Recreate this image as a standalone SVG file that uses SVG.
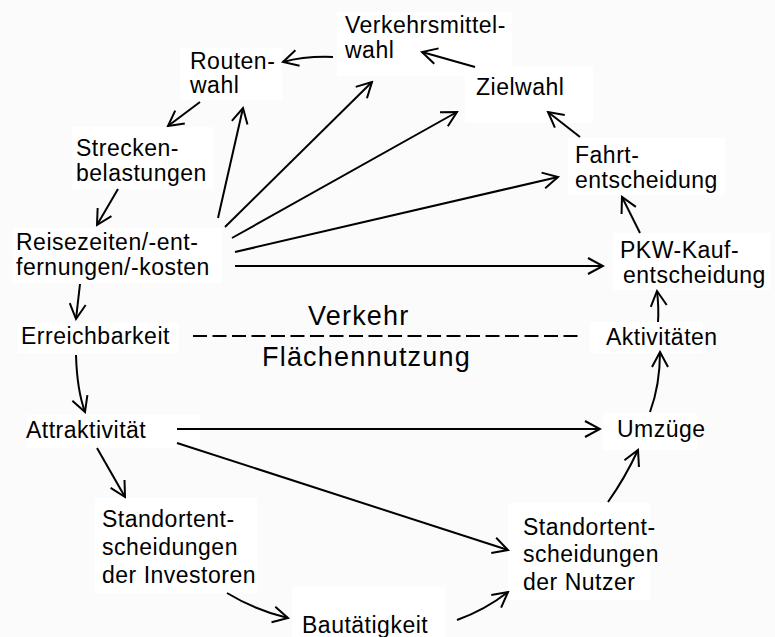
<svg xmlns="http://www.w3.org/2000/svg" width="775" height="637" viewBox="0 0 775 637">
<style>
text{font-family:"Liberation Sans",Arial,sans-serif;font-size:23px;letter-spacing:0.5px;fill:#000}
text.big{font-size:27px;letter-spacing:1.2px}
rect.box{fill:#fff;stroke:none}
.c path,.c line{fill:none;stroke:#000;stroke-width:2;marker-end:url(#a)}
</style>
<defs>
<marker id="a" viewBox="-17 -10 19 20" refX="0" refY="0" markerWidth="19" markerHeight="20" markerUnits="userSpaceOnUse" orient="auto">
<path d="M-15,-8 L0,0 L-15,8" fill="none" stroke="#000" stroke-width="2"/>
</marker>
</defs>
<rect x="0" y="0" width="775" height="637" fill="#fbfbfb"/>
<g id="n-verkehrsmittelwahl"><rect class="box" x="337" y="12" width="175" height="64"/><text x="345" y="33">Verkehrsmittel-</text><text x="345" y="58">wahl</text></g>
<g id="n-routenwahl"><rect class="box" x="180" y="48" width="102" height="52"/><text x="190" y="69">Routen-</text><text x="190" y="93">wahl</text></g>
<g id="n-strecken"><rect class="box" x="72" y="127" width="141" height="62"/><text x="76" y="156">Strecken-</text><text x="76" y="181">belastungen</text></g>
<g id="n-reisezeiten"><rect class="box" x="13" y="228" width="209" height="55"/><text x="16" y="250">Reisezeiten/-ent-</text><text x="16" y="275">fernungen/-kosten</text></g>
<g id="n-erreichbarkeit"><rect class="box" x="18" y="323" width="160" height="30"/><text x="21" y="344">Erreichbarkeit</text></g>
<g id="n-attraktivitaet"><rect class="box" x="27" y="415" width="173" height="33"/><text x="26" y="438">Attraktivität</text></g>
<g id="n-investoren"><rect class="box" x="95" y="498" width="162" height="95"/><text x="102" y="527">Standortent-</text><text x="102" y="555">scheidungen</text><text x="102" y="583">der Investoren</text></g>
<g id="n-bautaetigkeit"><rect class="box" x="292" y="587" width="153" height="50"/><text x="302" y="633">Bautätigkeit</text></g>
<g id="n-nutzer"><rect class="box" x="508" y="503" width="142" height="97"/><text x="523" y="535">Standortent-</text><text x="523" y="562">scheidungen</text><text x="523" y="590">der Nutzer</text></g>
<g id="n-umzuege"><rect class="box" x="603" y="413" width="94" height="37"/><text x="617" y="437">Umzüge</text></g>
<g id="n-aktivitaeten"><rect class="box" x="590" y="322" width="113" height="31"/><text x="606" y="345">Aktivitäten</text></g>
<g id="n-pkw"><rect class="box" x="613" y="233" width="157" height="57"/><text x="620" y="258">PKW-Kauf-</text><text x="623" y="283">entscheidung</text></g>
<g id="n-fahrt"><rect class="box" x="568" y="138" width="157" height="57"/><text x="575" y="163">Fahrt-</text><text x="575" y="188">entscheidung</text></g>
<g id="n-zielwahl"><rect class="box" x="465" y="67" width="128" height="56"/><text x="476" y="95">Zielwahl</text></g>
<g id="divider">
<line x1="193" y1="336" x2="583" y2="336" stroke="#000" stroke-width="2.2" stroke-dasharray="14 5.5"/>
<text class="big" x="308" y="325">Verkehr</text>
<text class="big" x="262" y="366">Flächennutzung</text>
</g>
<g id="connectors" class="c">
<line x1="475" y1="67" x2="422" y2="52"/>
<path d="M333,57 Q305,56 283,62"/>
<line x1="200" y1="102" x2="168" y2="126"/>
<line x1="118" y1="189" x2="97" y2="225"/>
<line x1="80" y1="284" x2="76" y2="319"/>
<path d="M76,355 Q77,390 85,412"/>
<line x1="97" y1="448" x2="125" y2="497"/>
<path d="M227,593 Q255,610 288,618"/>
<path d="M457,620 Q485,610 508,592"/>
<line x1="177" y1="429" x2="600" y2="429"/>
<line x1="177" y1="443" x2="508" y2="550"/>
<path d="M608,502 Q625,478 638,450"/>
<path d="M650,412 Q660,385 660,352"/>
<path d="M658,322 Q659,308 657,291"/>
<line x1="640" y1="233" x2="622" y2="197"/>
<line x1="580" y1="137" x2="548" y2="112"/>
<line x1="218" y1="218" x2="243" y2="108"/>
<line x1="225" y1="227" x2="372" y2="82"/>
<line x1="232" y1="238" x2="457" y2="112"/>
<line x1="235" y1="252" x2="558" y2="177"/>
<line x1="235" y1="266" x2="603" y2="266"/>
</g>
</svg>
